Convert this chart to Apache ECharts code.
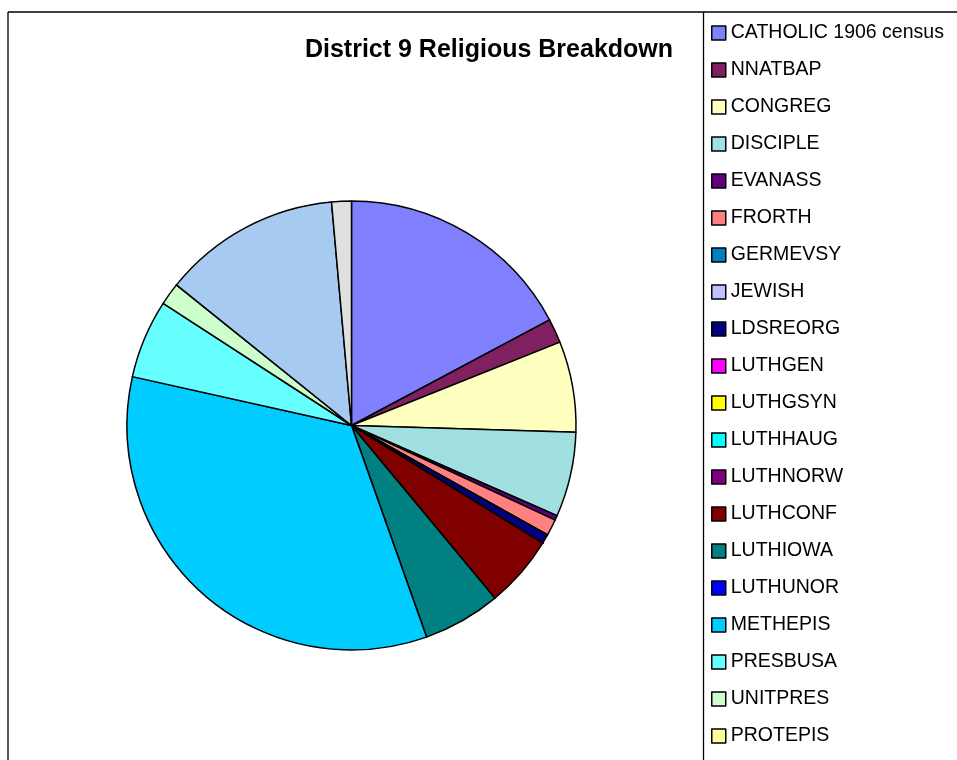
<!DOCTYPE html>
<html>
<head>
<meta charset="utf-8">
<script src="https://cdn.jsdelivr.net/npm/echarts@6/dist/echarts.min.js"></script>
<style>html,body{margin:0;padding:0;background:#fff}#c{width:957px;height:760px}</style>
</head>
<body>
<div id="c"></div>
<script>
const titleText = 'District 9 Religious Breakdown';
const categories = ['CATHOLIC 1906 census','NNATBAP','CONGREG','DISCIPLE','EVANASS','FRORTH','GERMEVSY','JEWISH','LDSREORG','LUTHGEN','LUTHGSYN','LUTHHAUG','LUTHNORW','LUTHCONF','LUTHIOWA','LUTHUNOR','METHEPIS','PRESBUSA','UNITPRES','PROTEPIS','REFORMED','OTHER'];
const values = [17.2,1.75,6.53,6.11,0.33,1.19,0,0,0.67,0,0,0,0,5.19,5.61,0,33.92,5.67,1.61,0,12.81,1.42];
const colors = ['#8080FF','#802060','#FFFFC0','#A0E0E0','#600080','#FF8080','#0080C0','#C0C0FF','#000080','#FF00FF','#FFFF00','#00FFFF','#800080','#800000','#008080','#0000FF','#00CCFF','#66FFFF','#CCFFCC','#FFFF99','#A6CAF0','#E0E0E0'];

const chart = echarts.init(document.getElementById('c'), null, {renderer:'canvas'});
const data = categories.map((n,i)=>({name:n, value:values[i], itemStyle:{color:colors[i]}}));
chart.setOption({
  animation:false,
  backgroundColor:'#fff',
  title:{text:titleText, left:484, top:33, textAlign:'center',
    textStyle:{fontFamily:'Liberation Sans', fontWeight:'bold', fontSize:25, color:'#000'}},
  legend:{orient:'vertical', left:706, top:18, itemWidth:14, itemHeight:14, itemGap:17, itemTextGap:6,
    icon:'rect', selectedMode:false,
    itemStyle:{borderColor:'#000', borderWidth:1.5},
    textStyle:{fontFamily:'Liberation Sans', fontSize:19.5, color:'#000', lineHeight:20},
    data:categories},
  graphic:[
    {type:'line', shape:{x1:8, y1:12, x2:957, y2:12}, style:{stroke:'#000', lineWidth:1.3}},
    {type:'line', shape:{x1:8, y1:12, x2:8, y2:760}, style:{stroke:'#000', lineWidth:1.3}},
    {type:'line', shape:{x1:703.5, y1:12, x2:703.5, y2:760}, style:{stroke:'#000', lineWidth:1.3}}
  ],
  series:[{
    type:'pie', center:[351.5,425.5], radius:224.5, startAngle:90, clockwise:true,
    avoidLabelOverlap:false, label:{show:false}, labelLine:{show:false},
    itemStyle:{borderColor:'#000', borderWidth:1.5},
    emphasis:{disabled:true},
    data:data
  }]
});
</script>
</body>
</html>
